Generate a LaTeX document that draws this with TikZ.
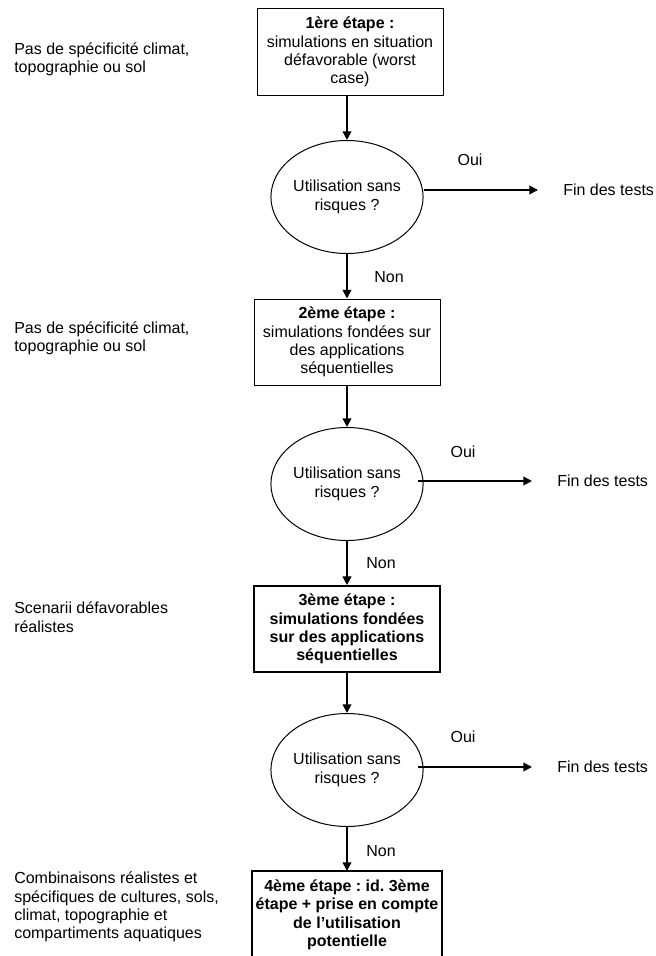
\documentclass[tikz,border=0pt]{standalone}
\usepackage{fontspec}
\setmainfont{Liberation Sans}
\usetikzlibrary{shapes.geometric,arrows.meta}
\frenchspacing
\begin{document}
\begin{tikzpicture}[x=0.75pt,y=-0.75pt,
  every node/.style={font=\fontsize{12}{13.8}\selectfont},
  stepbox/.style={draw, line width=0.75pt, align=center, minimum width=139.5pt, minimum height=64.5pt, inner sep=2pt},
  boldbox/.style={stepbox, line width=1.3pt, font=\fontsize{12}{13.8}\selectfont\bfseries},
  question/.style={draw, ellipse, line width=0.75pt, minimum width=108pt, minimum height=84.75pt, inner sep=0pt, align=center},
  arr/.style={line width=1.3pt, -{Triangle[length=6.5pt,width=6.5pt]}},
  lbl/.style={inner sep=0pt},
  side/.style={anchor=west, align=left, inner sep=0pt}]
\clip (0,0) rectangle (656,956);
\fill[white] (0,0) rectangle (656,956);

% left notes
\node[side] (n1) at (14,59) {Pas de spécificité climat,\\topographie ou sol};
\node[side] (n2) at (14,338) {Pas de spécificité climat,\\topographie ou sol};
\node[side] (n3) at (14,617) {Scenarii défavorables\\réalistes};
\node[side] (n4) at (14,907) {Combinaisons réalistes et\\spécifiques de cultures, sols,\\climat, topographie et\\compartiments aquatiques};

% main column
\node[stepbox] (b1) at (350,52) {\textbf{1ère étape :}\\simulations en situation\\défavorable (worst\\case)};
\node[question] (q1) at (347,197) {Utilisation sans\\risques ?};
\node[stepbox] (b2) at (347,342) {\textbf{2ème étape :}\\simulations fondées sur\\des applications\\séquentielles};
\node[question] (q2) at (347,484) {Utilisation sans\\risques ?};
\node[boldbox] (b3) at (347,629) {3ème étape :\\simulations fondées\\sur des applications\\séquentielles};
\node[question] (q3) at (347,770) {Utilisation sans\\risques ?};
\node[boldbox, draw=none, anchor=north, inner ysep=4pt] (b4) at (347,871) {4ème étape : id. 3ème\\étape + prise en compte\\de l’utilisation\\potentielle};
\draw[line width=1.3pt] ([yshift=-30pt]b4.south west) -- (b4.north west) -- (b4.north east) -- ([yshift=-30pt]b4.south east);

% vertical arrows
\draw[arr] (b1.south -| q1.north) -- (q1.north);
\draw[arr] (q1.south) -- (b2.north);
\draw[arr] (b2.south) -- (q2.north);
\draw[arr] (q2.south) -- (b3.north);
\draw[arr] (b3.south) -- (q3.north);
\draw[arr] (q3.south) -- (b4.north);

\node[lbl] (non1) at (389,277) {Non};
\node[lbl] (non2) at (381,563) {Non};
\node[lbl] (non3) at (381,851) {Non};

% yes branches
\node[lbl, anchor=west] (f1) at (563,190) {Fin des tests};
\node[lbl, anchor=west] (f2) at (557,481) {Fin des tests};
\node[lbl, anchor=west] (f3) at (557,767) {Fin des tests};
\coordinate (s1) at (424,190); \coordinate (e1) at (538,190);
\coordinate (s2) at (418,481); \coordinate (e2) at (532,481);
\coordinate (s3) at (418,767); \coordinate (e3) at (532,767);
\draw[arr] (s1) -- (e1);
\draw[arr] (s2) -- (e2);
\draw[arr] (s3) -- (e3);
\node[lbl] (oui1) at (470,160) {Oui};
\node[lbl] (oui2) at (463,452) {Oui};
\node[lbl] (oui3) at (463,737) {Oui};
\end{tikzpicture}
\end{document}
